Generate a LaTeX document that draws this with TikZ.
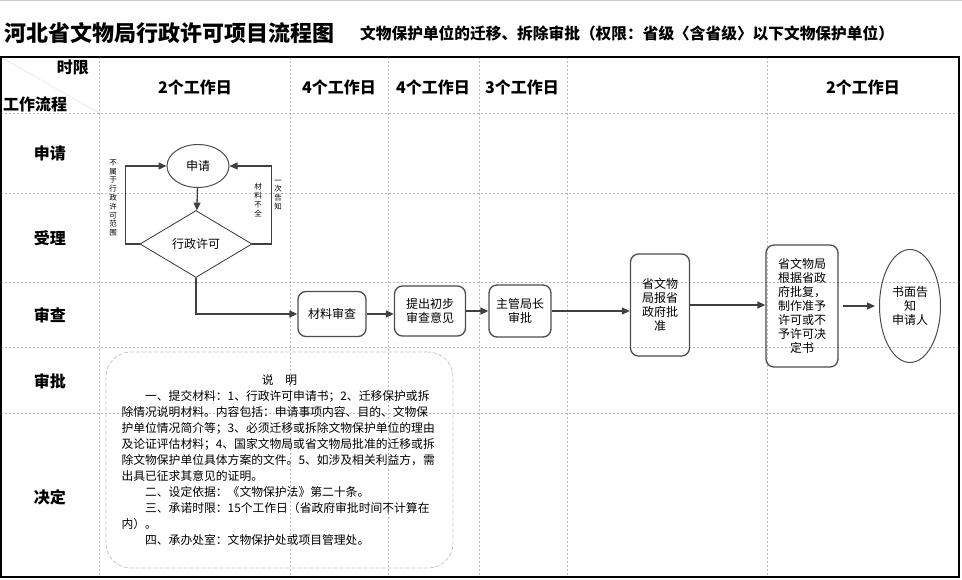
\documentclass[tikz,border=0pt]{standalone}
\usepackage{fontspec}
\setmainfont{Noto Sans CJK SC}
\usepackage{tikz}
\usetikzlibrary{arrows.meta,shapes.geometric}
\newcommand{\lanegrid}{
  \foreach \y in {113,193,282,347,413}
    \draw[lane] (1,\y) -- (959,\y);
  \foreach \x in {99,290,388,479,567,767}
    \draw[lane] (\x,57) -- (\x,577);
}

\begin{document}
\begin{tikzpicture}[x=1pt,y=-1pt,
    lane/.style={gray!55,dash pattern=on 2pt off 2pt,line width=0.7pt},
    flow/.style={black!75,line width=1.3pt,-{Triangle[length=8pt,width=7pt]}},
    proc/.style={draw=black!70,line width=1.3pt,rounded corners=8pt,align=center,
      inner sep=1pt,font=\fontsize{12}{14}\selectfont},
    oval/.style={ellipse,draw=black!70,line width=1pt,align=center,inner sep=0pt,
      font=\fontsize{12}{14}\selectfont},
    head/.style={font=\bfseries\fontsize{16}{18}\selectfont,inner sep=0pt},
    side/.style={font=\fontsize{7.5}{8.8}\selectfont,align=center,inner sep=0pt}]
  \useasboundingbox (0,0) rectangle (962,580);
  \draw[gray!40,line width=1pt] (0,0.5) -- (962,0.5);
  % title
  \node[anchor=west,inner sep=0pt,font=\bfseries\fontsize{22}{24}\selectfont]
    (title) at (4,33) {河北省文物局行政许可项目流程图};
  \node[anchor=west,inner sep=0pt,font=\bfseries\fontsize{15.7}{17}\selectfont]
    (subtitle) at (360,33) {文物保护单位的迁移、拆除审批（权限：省级〈含省级〉以下文物保护单位）};
  % table
  \lanegrid
  \draw[gray!60,dash pattern=on 1pt off 1pt] (1,57) -- (99,113);
  \draw[line width=2.4pt] (1,57) rectangle (959,577);
  \node[head,anchor=east] (limit) at (89,68) {时限};
  \node[head,anchor=west] (work) at (3,104) {工作流程};
  \foreach \lbl/\y in {申请/153,受理/238,审查/315,审批/381,决定/497}
    \node[head] (row\y) at (50,\y) {\lbl};
  \foreach \lbl/\x [count=\i] in {2个工作日/195,4个工作日/339,4个工作日/433,3个工作日/522,2个工作日/863}
    \node[head] (col\i) at (\x,87) {\lbl};
  % flow
  \node[oval,minimum width=62,minimum height=43] (apply) at (198,166) {申请};
  \node[diamond,draw=black!80,line width=0.8pt,minimum width=112,minimum height=67,
    inner sep=0pt,font=\fontsize{12}{14}\selectfont] (check) at (196,244) {行政许可};
  \node[proc,minimum width=68,minimum height=45] (review) at (332,314) {材料审查};
  \node[proc,minimum width=71,minimum height=50] (opinion) at (430,311) {提出初步\\审查意见};
  \node[proc,minimum width=62,minimum height=52] (chief) at (520,311) {主管局长\\审批};
  \node[proc,minimum width=59,minimum height=102] (report) at (660,305) {省文物\\局报省\\政府批\\准};
  \node[proc,minimum width=72,minimum height=122] (decide) at (802,306)
    {省文物局\\根据省政\\府批复，\\制作准予\\许可或不\\予许可决\\定书};
  \node[oval,minimum width=61,minimum height=113] (notify) at (910,306) {书面告\\知\\申请人};
  \node[side] (outscope) at (113,198) {不\\属\\于\\行\\政\\许\\可\\范\\围};
  \node[side] (lack) at (258,200) {材\\料\\不\\全};
  \node[side] (inform) at (278,195) {一\\次\\告\\知};
  \draw[flow] (apply) -- (check);
  \draw[flow] (check.west) -- ++(-14,0) |- (apply.west);
  \draw[flow] (check.east) -- ++(19,0) |- (apply.east);
  \draw[flow] (check.south) |- (review.west);
  \draw[flow] (review.east) -- (review.east -| opinion.west);
  \draw[flow] (opinion.east) -- (opinion.east -| chief.west);
  \draw[flow] (chief.east) -- (chief.east -| report.west);
  \draw[flow] (report.east) -- (report.east -| decide.west);
  \draw[flow,shorten <=4pt,shorten >=4pt] (decide.east) -- (decide.east -| notify.west);
  % notes
  \node[draw=gray!45,dash pattern=on 4pt off 2pt,line width=0.8pt,rounded corners=25pt,
    minimum width=347,minimum height=216,text width=316,align=left,
    font=\fontsize{11.8}{16}\selectfont] (note) at (279.5,460)
    {\makebox[\linewidth]{说\hspace{1em}明}\\
     \hspace*{2em}一、提交材料：1、行政许可申请书；2、迁移保护或拆\\
     除情况说明材料。内容包括：申请事项内容、目的、文物保\\
     护单位情况简介等；3、必须迁移或拆除文物保护单位的理由\\
     及论证评估材料；4、国家文物局或省文物局批准的迁移或拆\\
     除文物保护单位具体方案的文件。5、如涉及相关利益方，需\\
     出具已征求其意见的证明。\\
     \hspace*{2em}二、设定依据：《文物保护法》第二十条。\\
     \hspace*{2em}三、承诺时限：15个工作日（省政府审批时间不计算在\\
     内）。\\
     \hspace*{2em}四、承办处室：文物保护处或项目管理处。};
\end{tikzpicture}
\end{document}
